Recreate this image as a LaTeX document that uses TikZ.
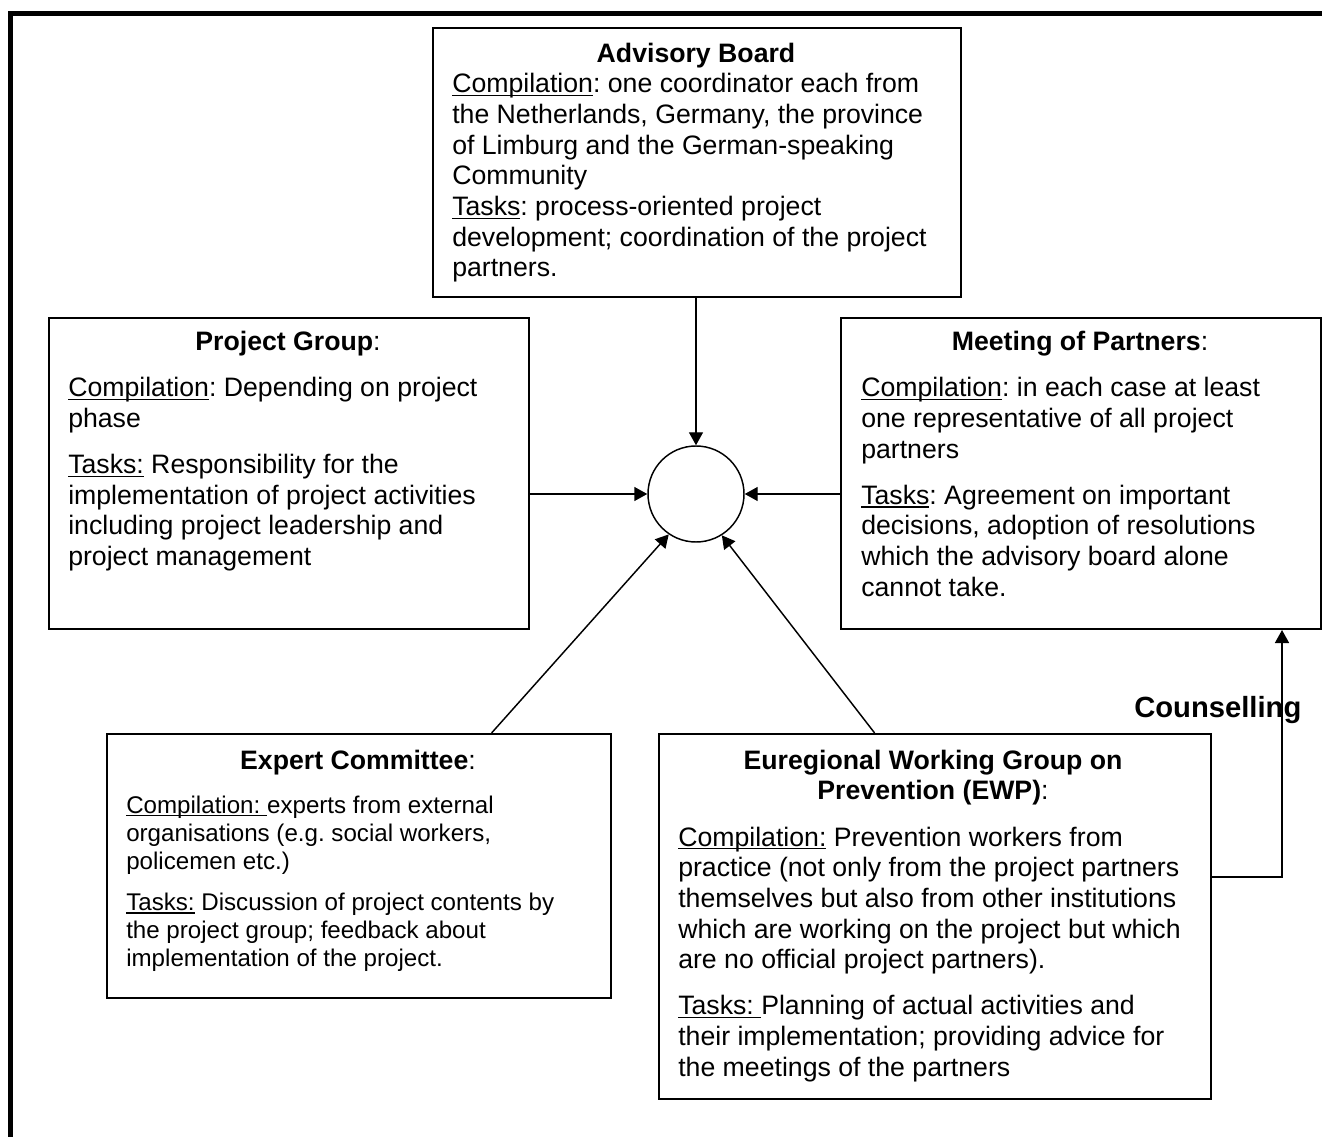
\documentclass[tikz,border=0pt]{standalone}
\usepackage{fontspec}
\setmainfont{Liberation Sans}
\usetikzlibrary{arrows.meta,calc}
\frenchspacing
\newsavebox{\ulbox}
\newcommand{\ulin}[1]{\leavevmode\sbox{\ulbox}{#1}\rlap{\rule[-2.6pt]{\wd\ulbox}{1.1pt}}\usebox{\ulbox}}
\newcommand{\bodyfont}{\fontsize{20pt}{23pt}\selectfont}
\newcommand{\smallbody}{\fontsize{18.1pt}{21pt}\selectfont}
\newcommand{\px}{0.75pt}
\begin{document}
\begin{tikzpicture}[x=0.75pt,y=-0.75pt,
  boxst/.style={draw, line width=1.5pt, rectangle, inner sep=0pt, anchor=north west},
  hubst/.style={draw, circle, line width=1.1pt, inner sep=0pt, minimum size=72pt},
  txt/.style={inner sep=0pt, anchor=base west, font=\bodyfont},
  head/.style={inner sep=0pt, anchor=base, font=\bodyfont},
  conn/.style={line width=1.1pt, -{Triangle[length=9.75pt,width=10.5pt]}},
  framest/.style={line width=3.75pt}]
\useasboundingbox (0,0) rectangle (1322,1137);
\clip (0,0) rectangle (1322,1137);
\draw[framest] (10,1160) -- (10,14) -- (1350,14);

% boxes
\node[boxst, minimum width={528*\px}, minimum height={269*\px}] (ab) at (432,27) {};
\node[boxst, minimum width={480*\px}, minimum height={311*\px}] (pg) at (48,317) {};
\node[boxst, minimum width={480*\px}, minimum height={311*\px}] (mp) at (840,317) {};
\node[boxst, minimum width={504*\px}, minimum height={264*\px}] (ec) at (106,733) {};
\node[boxst, minimum width={552*\px}, minimum height={365*\px}] (ewp) at (658,733) {};
\node[hubst] (hub) at (696,494) {};

% headers
\node[head] (abh) at (696,63) {\parbox[t]{400pt}{\centering\textbf{Advisory Board}}};
\node[head] (pgh) at (288,351) {\parbox[t]{400pt}{\centering\textbf{Project Group}:}};
\node[head] (mph) at (1080,351) {\parbox[t]{400pt}{\centering\textbf{Meeting of Partners}:}};
\node[head] (ech) at (358,769) {\parbox[t]{400pt}{\centering\textbf{Expert Committee}:}};
\node[head] (ewph) at (933,769) {\parbox[t]{400pt}{\centering\textbf{Euregional Working Group on}\\\textbf{Prevention (EWP)}:}};

% bodies
\node[txt] (abt) at (452,93) {\parbox[t]{500pt}{\raggedright
\ulin{Compilation}: one coordinator each from\\
the Netherlands, Germany, the province\\
of Limburg and the German-speaking\\
Community\\
\ulin{Tasks}: process-oriented project\\
development; coordination of the project\\
partners.}};

\node[txt] (pgt) at (68,397) {\parbox[t]{500pt}{\raggedright
\ulin{Compilation}: Depending on project\\
phase\\[11.5pt]
\ulin{Tasks:} Responsibility for the\\
implementation of project activities\\
including project leadership and\\
project management}};

\node[txt] (mpt) at (861,397) {\parbox[t]{500pt}{\raggedright
\ulin{Compilation}: in each case at least\\
one representative of all project\\
partners\\[11.5pt]
\ulin{Tasks}: Agreement on important\\
decisions, adoption of resolutions\\
which the advisory board alone\\
cannot take.}};

\node[txt, font=\smallbody] (ect) at (126,813) {\parbox[t]{500pt}{\raggedright
\ulin{Compilation:\ }experts from external\\
organisations (e.g. social workers,\\
policemen etc.)\\[10pt]
\ulin{Tasks:} Discussion of project contents by\\
the project group; feedback about\\
implementation of the project.}};

\node[txt] (ewpt) at (678,846) {\parbox[t]{500pt}{\raggedright
\ulin{Compilation:} Prevention workers from\\
practice (not only from the project partners\\
themselves but also from other institutions\\
which are working on the project but which\\
are no official project partners).\\[11.5pt]
\ulin{Tasks:\ }Planning of actual activities and\\
their implementation; providing advice for\\
the meetings of the partners}};

\node[inner sep=0pt, anchor=base west, font=\fontsize{21.9pt}{25pt}\selectfont\bfseries] (coun) at (1134,717) {Counselling};

% connectors
\draw[conn] (ab.south -| hub) -- (hub.north);
\draw[conn] (pg.east |- hub) -- (hub.west);
\draw[conn] (mp.west |- hub) -- (hub.east);
\coordinate (ecs) at ($(ec.north west)!0.762!(ec.north east)$);
\draw[conn] (ecs) -- (hub.236);
\coordinate (ewps) at ($(ewp.north west)!0.391!(ewp.north east)$);
\draw[conn] (ewps) -- (hub.302);
\coordinate (cbend) at (1282,877);
\draw[conn] (ewp.east |- cbend) -- (cbend) -- (cbend |- mp.south);
\end{tikzpicture}
\end{document}
